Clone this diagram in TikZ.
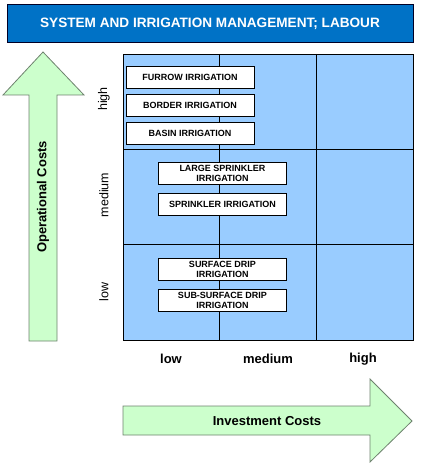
\documentclass[tikz,border=0pt]{standalone}
\usepackage{fontspec}
\setmainfont{Liberation Sans}
\usetikzlibrary{positioning}
\definecolor{TitleBlue}{RGB}{0, 114, 198}
\definecolor{GridBlue}{RGB}{153, 204, 255}
\definecolor{ArrowGreen}{RGB}{204, 255, 204}
\definecolor{ArrowEdge}{RGB}{110, 130, 110}

\begin{document}
\begin{tikzpicture}[x=1pt, y=-1pt,
      method/.style={rectangle, draw=black, fill=white, line width=0.8pt, inner sep=0pt,
      minimum width=128pt, minimum height=22pt, align=center,
      font=\bfseries\fontsize{9}{10}\selectfont},
      axislabel/.style={font=\bfseries\fontsize{13}{15}\selectfont},
      levellabel/.style={font=\fontsize{12.5}{14}\selectfont, rotate=90},
      costarrow/.style={fill=ArrowGreen, draw=ArrowEdge, line width=0.8pt}
    ]
      \useasboundingbox (0,0) rectangle (420,468);
      % title bar
      \node[rectangle, draw=black!85!blue, fill=TitleBlue, line width=1pt, minimum width=406pt,
        minimum height=38pt, text=white, font=\bfseries\fontsize{13.6}{15}\selectfont] (title) at (210,24)
        {SYSTEM AND IRRIGATION MANAGEMENT; LABOUR};

      % grid
      \fill[GridBlue] (123,54) rectangle (413,340);
      \draw[line width=0.8pt] (123,54) rectangle (413,340);
      \draw[line width=0.8pt] (219,54) -- (219,340) (316,54) -- (316,340);
      \draw[line width=0.8pt] (123,149) -- (413,149) (123,244) -- (413,244);

      % methods
      \node[method] (furrow) at (190,77.5) {FURROW IRRIGATION};
      \node[method, below=5pt of furrow] (border) {BORDER IRRIGATION};
      \node[method, below=5pt of border] (basin) {BASIN IRRIGATION};
      \node[method] (largesprinkler) at (222.5,173) {LARGE SPRINKLER\\IRRIGATION};
      \node[method, below=9pt of largesprinkler] (sprinkler) {SPRINKLER IRRIGATION};
      \node[method] (surfacedrip) at (222.5,269) {SURFACE DRIP\\IRRIGATION};
      \node[method, below=9pt of surfacedrip] (subsurface) {SUB-SURFACE DRIP\\IRRIGATION};

      % operational costs arrow
      \draw[costarrow] (29,341) -- (29,95) -- (3,95) -- (43,52) -- (84,95) -- (57,95) -- (57,341) -- cycle;
      \node[axislabel, rotate=90] (opcost) at (43,197) {Operational Costs};
      \node[levellabel] (ophigh) at (104,99) {high};
      \node[levellabel] (opmedium) at (104,195) {medium};
      \node[levellabel] (oplow) at (104,292) {low};

      % investment costs arrow
      \draw[costarrow] (123,406) -- (370,406) -- (370,379) -- (412,421) -- (370,462) -- (370,435) -- (123,435) -- cycle;
      \node[axislabel] (invcost) at (267,421) {Investment Costs};
      \node[axislabel] (invlow) at (171,359) {low};
      \node[axislabel] (invmedium) at (268,359) {medium};
      \node[axislabel] (invhigh) at (363,359) {high};
    \end{tikzpicture}
\end{document}
